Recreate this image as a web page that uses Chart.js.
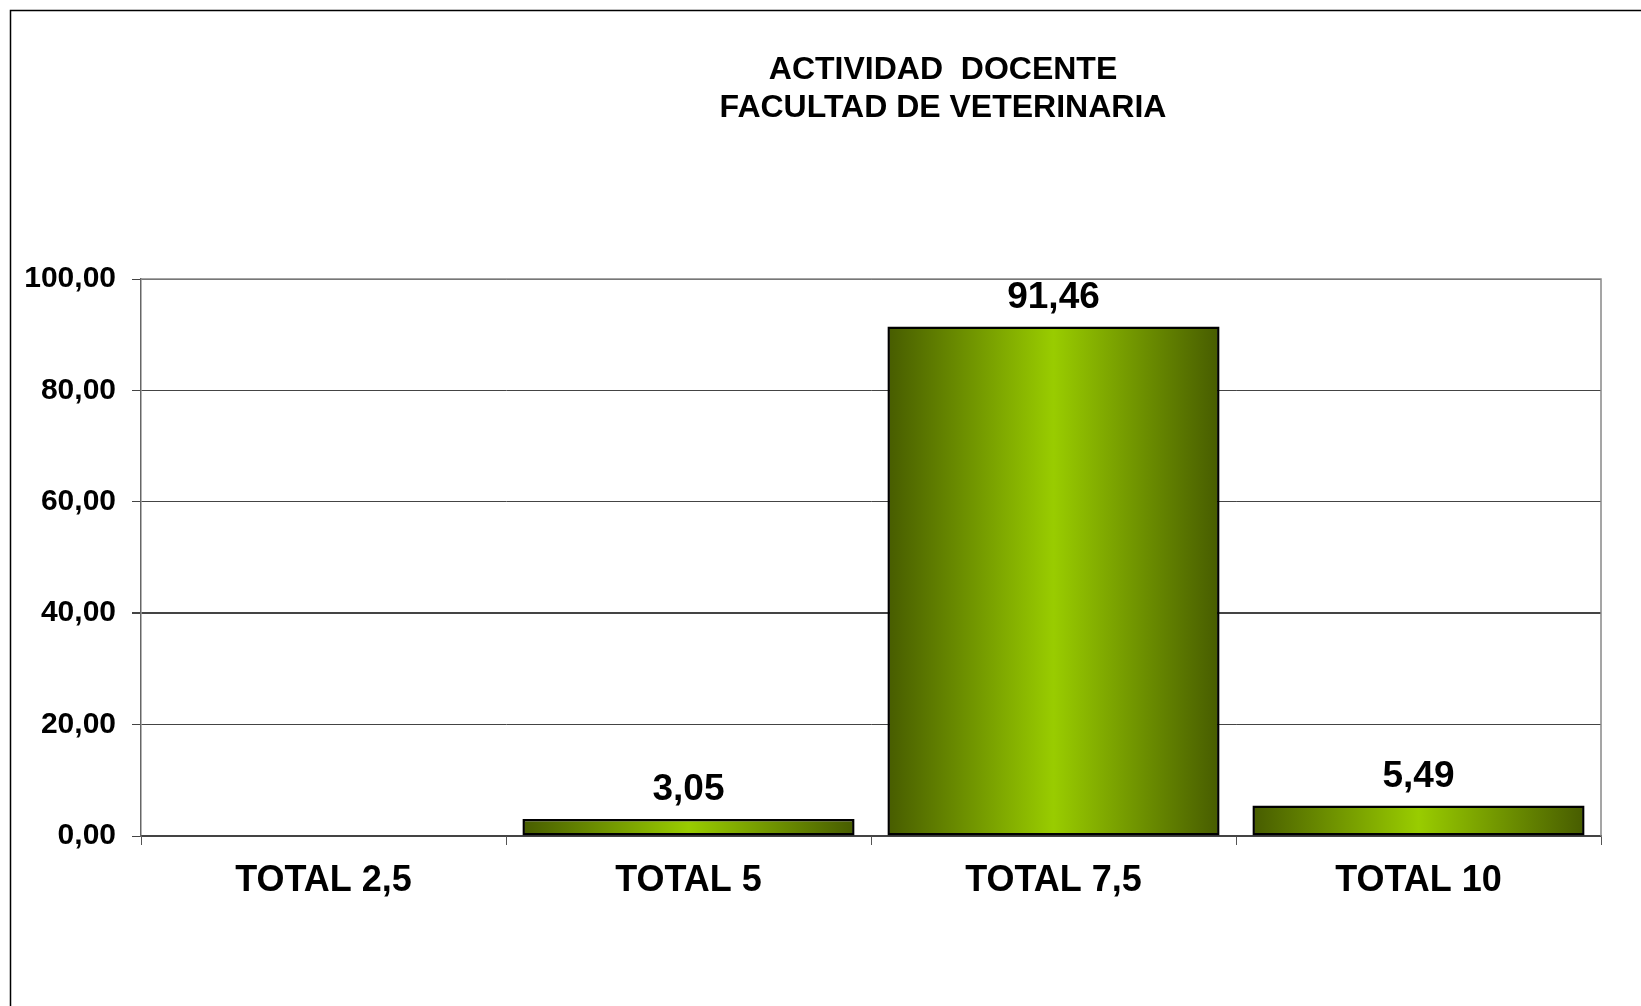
<!DOCTYPE html>
<html>
<head>
<meta charset="utf-8">
<script src="https://cdn.jsdelivr.net/npm/chart.js@4"></script>
<style>
    body { margin: 0; background: #fff; }
    canvas { display: block; }
</style>
</head>
<body>
<canvas id="myChart" width="1641" height="1006"></canvas>
<script>
const categories = ['TOTAL 2,5', 'TOTAL 5', 'TOTAL 7,5', 'TOTAL 10'];
const values = [0, 3.05, 91.46, 5.49];
const yTicks = [0, 20, 40, 60, 80, 100];
const titleLines = ['ACTIVIDAD  DOCENTE', 'FACULTAD DE VETERINARIA'];

const fmt = v => v.toFixed(2).replace('.', ',');
const FONT = '"Liberation Sans", Arial, sans-serif';

function barGradient(context) {
    const chart = context.chart;
    const x = chart.scales.x;
    if (!chart.chartArea || !x) return '#7aa300';
    const center = x.getPixelForValue(context.dataIndex);
    const half = (x.width / categories.length) * 0.91 / 2;
    const g = chart.ctx.createLinearGradient(center - half, 0, center + half, 0);
    g.addColorStop(0, '#475c00');
    g.addColorStop(0.5, '#99cc00');
    g.addColorStop(1, '#475c00');
    return g;
}

const frame = {
    id: 'frame',
    beforeDraw(chart) {
        const c = chart.ctx;
        c.save();
        c.strokeStyle = '#000';
        c.lineWidth = 1.5;
        c.beginPath();
        c.moveTo(10.5, chart.height + 5);
        c.lineTo(10.5, 10.5);
        c.lineTo(chart.width + 5, 10.5);
        c.stroke();

        c.fillStyle = '#000';
        c.font = 'bold 32px ' + FONT;
        c.textAlign = 'center';
        c.textBaseline = 'middle';
        c.fillText(titleLines[0], 943, 70);
        c.fillText(titleLines[1], 943, 108);
        c.restore();
    },
    afterDatasetsDraw(chart) {
        const c = chart.ctx;
        const a = chart.chartArea;
        c.save();
        c.strokeStyle = '#888';
        c.lineWidth = 1.5;
        c.beginPath();
        c.moveTo(a.left, a.top);
        c.lineTo(a.right, a.top);
        c.lineTo(a.right, a.bottom);
        c.stroke();

        c.fillStyle = '#000';
        c.font = 'bold 37px ' + FONT;
        c.textAlign = 'center';
        c.textBaseline = 'middle';
        chart.getDatasetMeta(0).data.forEach((bar, i) => {
            if (values[i] > 0) {
                c.fillText(fmt(values[i]), bar.x, bar.y - 29);
            }
        });
        c.restore();
    }
};

new Chart(document.getElementById('myChart'), {
    type: 'bar',
    data: {
        labels: categories,
        datasets: [{
            data: values,
            backgroundColor: barGradient,
            borderColor: '#000',
            borderWidth: 2.5,
            borderSkipped: false,
            barPercentage: 0.91,
            categoryPercentage: 1
        }]
    },
    options: {
        responsive: false,
        animation: false,
        layout: {
            padding: { left: 0, right: 40, top: 279, bottom: 0 }
        },
        plugins: {
            legend: { display: false },
            tooltip: { enabled: false }
        },
        scales: {
            x: {
                grid: {
                    offset: true,
                    drawOnChartArea: false,
                    tickLength: 9,
                    color: '#555'
                },
                border: { color: '#444', width: 1.5 },
                ticks: {
                    color: '#000',
                    padding: 14,
                    font: { family: FONT, size: 36, weight: 'bold' }
                },
                afterFit(scale) { scale.height = 170; }
            },
            y: {
                min: 0,
                max: 100,
                afterBuildTicks(scale) {
                    scale.ticks = yTicks.map(v => ({ value: v }));
                },
                grid: {
                    tickLength: 9,
                    color: '#444',
                    lineWidth: ctx => (ctx.tick && ctx.tick.value === 40 ? 2 : 1)
                },
                border: { color: '#666', width: 1.5 },
                ticks: {
                    color: '#000',
                    padding: 16,
                    font: { family: FONT, size: 30, weight: 'bold' },
                    callback: v => fmt(v)
                },
                afterFit(scale) { scale.width = 141; }
            }
        }
    },
    plugins: [frame]
});
</script>
</body>
</html>
